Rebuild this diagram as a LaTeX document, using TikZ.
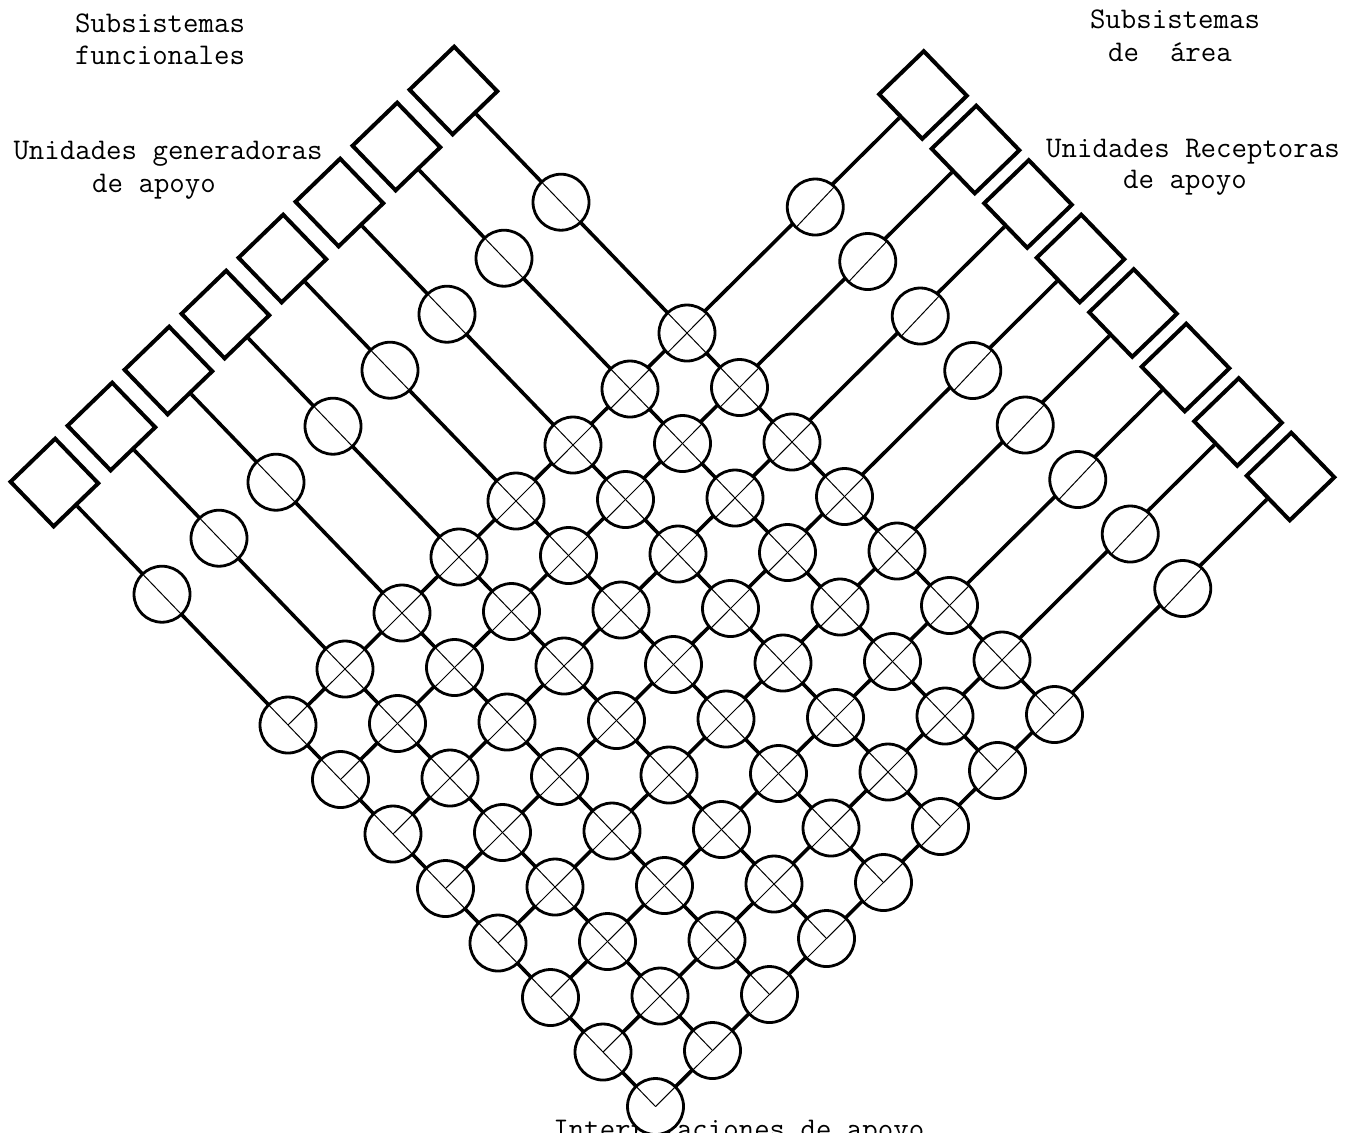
\documentclass[tikz,border=0pt]{standalone}
\usepackage{fontspec}
\usetikzlibrary{calc}
\begin{document}
\begin{tikzpicture}[x=0.5pt,y=-0.5pt,
  box/.style={draw,line width=2pt,rectangle,minimum size=31pt,inner sep=0pt,rotate=44},
  circ/.style={draw,circle,fill=white,line width=1.4pt,minimum size=28pt,inner sep=0pt},
  wire/.style={line width=1.8pt},
  hair/.style={line width=0.5pt},
  lbl/.style={font=\ttfamily\fontsize{15}{18}\selectfont\addfontfeatures{FakeBold=1.2},anchor=base,inner sep=0pt}]
\useasboundingbox (0,0) rectangle (1363,1132);

% grid coordinates
\foreach \a in {0,...,7}{
  \foreach \b in {0,...,7}{
    \pgfmathsetmacro\gx{687+\b*52.5-\a*57}
    \pgfmathsetmacro\gy{333+\b*54.5+\a*56}
    \coordinate (g-\a-\b) at (\gx,\gy);
  }
}
% boxes and extra circle positions
\foreach \a in {0,...,7}{
  \pgfmathsetmacro\bx{687-\a*57-233.6}
  \pgfmathsetmacro\by{333+\a*56-242.5}
  \node[box] (lb-\a) at (\bx,\by) {};
  \pgfmathsetmacro\ex{687-\a*57-126}
  \pgfmathsetmacro\ey{333+\a*56-130.8}
  \coordinate (le-\a) at (\ex,\ey);
}
\foreach \b in {0,...,7}{
  \pgfmathsetmacro\bx{687+\b*52.5+236}
  \pgfmathsetmacro\by{333+\b*54.5-238}
  \node[box] (rb-\b) at (\bx,\by) {};
  \pgfmathsetmacro\ex{687+\b*52.5+128.25}
  \pgfmathsetmacro\ey{333+\b*54.5-126}
  \coordinate (re-\b) at (\ex,\ey);
}

% labels
\node[lbl] (t1) at (160,32) {Subsistemas};
\node[lbl] (t2) at (160,64) {funcionales};
\node[lbl] (t3) at (168,159) {Unidades generadoras};
\node[lbl] (t4) at (154,192) {de apoyo};
\node[lbl] (t5) at (1175,28) {Subsistemas};
\node[lbl] (t6) at (1170,61) {de\ \ área};
\node[lbl] (t7) at (1193,157) {Unidades Receptoras};
\node[lbl] (t8) at (1185,188) {de apoyo};
\node[lbl,anchor=base west] (t9) at (553,1138) {Interrelaciones de apoyo};

% wires
\foreach \a in {0,...,7}{ \draw[wire] (lb-\a.south) -- (g-\a-7); }
\foreach \b in {0,...,7}{ \draw[wire] (rb-\b.west) -- (g-7-\b); }

% circles
\foreach \a in {0,...,7}{
  \node[circ] (cl-\a) at (le-\a) {};
  \draw[hair] ($(le-\a)!14pt!(lb-\a.south)$) -- ($(le-\a)!-14pt!(lb-\a.south)$);
}
\foreach \b in {0,...,7}{
  \node[circ] (cr-\b) at (re-\b) {};
  \draw[hair] ($(re-\b)!14pt!(rb-\b.west)$) -- ($(re-\b)!-14pt!(rb-\b.west)$);
}
\foreach \a in {0,...,7}{
  \foreach \b in {0,...,7}{
    \node[circ] (c-\a-\b) at (g-\a-\b) {};
    \ifnum\b<7
      \draw[hair] ($(g-\a-\b)!14pt!(lb-\a.south)$) -- ($(g-\a-\b)!-14pt!(lb-\a.south)$);
    \else
      \draw[hair] ($(g-\a-\b)!14pt!(lb-\a.south)$) -- (g-\a-\b);
    \fi
    \ifnum\a<7
      \draw[hair] ($(g-\a-\b)!14pt!(rb-\b.west)$) -- ($(g-\a-\b)!-14pt!(rb-\b.west)$);
    \else
      \draw[hair] ($(g-\a-\b)!14pt!(rb-\b.west)$) -- (g-\a-\b);
    \fi
  }
}
\end{tikzpicture}
\end{document}
